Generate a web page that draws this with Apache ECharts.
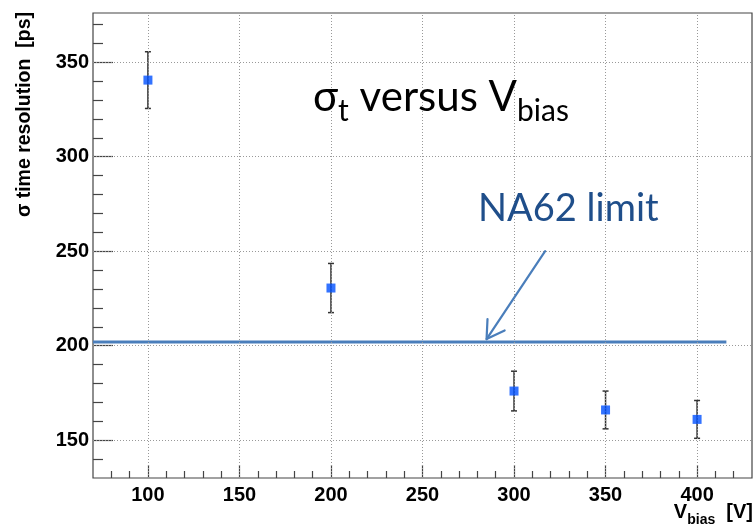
<!DOCTYPE html>
<html><head><meta charset="utf-8">
<script src="https://cdn.jsdelivr.net/npm/echarts@6/dist/echarts.min.js"></script>
<style>html,body{margin:0;padding:0;background:#fff}#c{width:755px;height:528px}</style>
</head><body><div id="c"></div>
<script>
// ---- data ----
const xMajorTicks = [100, 150, 200, 250, 300, 350, 400];
const xMinorTicks = [80, 90, 110, 120, 130, 140, 160, 170, 180, 190, 210, 220, 230, 240, 260, 270, 280, 290, 310, 320, 330, 340, 360, 370, 380, 390, 410, 420];
const yMajorTicks = [150, 200, 250, 300, 350];
const yMinorTicks = [140, 160, 170, 180, 190, 210, 220, 230, 240, 260, 270, 280, 290, 310, 320, 330, 340, 360, 370];
const vBias = [100, 200, 300, 350, 400];
const sigmaT = [340.5, 230.5, 176, 166, 161];
const sigmaErr = [15, 13, 10.5, 10, 10];
const na62Limit = 202;
const na62Extent = [70, 416];
const arrowFrom = [317, 250];
const arrowTo = [285, 203.5];
const xRange = [70, 430];
const yRange = [130, 376];

const chart = echarts.init(document.getElementById('c'), null, {renderer: 'canvas'});
const labelFont = {fontFamily: 'Liberation Sans', fontWeight: 'bold', fontSize: 20, color: '#000'};
const tickColor = '#444';

function xAx(ticks, len, labels) {
  return {
    type: 'value', position: 'bottom', min: xRange[0], max: xRange[1],
    axisLine: {show: false, onZero: false},
    axisTick: {show: true, inside: true, length: len, customValues: ticks, lineStyle: {color: tickColor, width: 1.2}},
    axisLabel: labels ? Object.assign({show: true, customValues: ticks, margin: 7}, labelFont) : {show: false},
    splitLine: {show: false}
  };
}
function yAx(ticks, len, labels) {
  return {
    type: 'value', position: 'left', min: yRange[0], max: yRange[1],
    axisLine: {show: false, onZero: false},
    axisTick: {show: true, inside: true, length: len, customValues: ticks, lineStyle: {color: tickColor, width: 1.2}},
    axisLabel: labels ? Object.assign({show: true, customValues: ticks, margin: 4}, labelFont) : {show: false},
    splitLine: {show: false}
  };
}

const titleBase = {fontFamily: 'Lato', fontSize: 42, lineHeight: 42, verticalAlign: 'top', fill: '#000'};
const titleSub = {fontFamily: 'Lato', fontSize: 30, lineHeight: 30, verticalAlign: 'top', padding: [20, 0, 0, 0], fill: '#000'};
const xtBase = {fontFamily: 'Liberation Sans', fontWeight: 'bold', fontSize: 20, lineHeight: 20, verticalAlign: 'top', fill: '#000'};
const xtSub = {fontFamily: 'Liberation Sans', fontWeight: 'bold', fontSize: 14, lineHeight: 14, verticalAlign: 'top', padding: [11, 0, 0, 0], fill: '#000'};

const option = {
  animation: false,
  backgroundColor: '#fff',
  grid: {left: 93, top: 13, right: 3, bottom: 50, show: true, borderColor: '#444', borderWidth: 1.2, backgroundColor: 'transparent'},
  xAxis: [xAx(xMinorTicks, 7, false), xAx(xMajorTicks, 13, true)],
  yAxis: [yAx(yMinorTicks, 10, false), yAx(yMajorTicks, 20, true)],
  series: [
    {
      type: 'line', data: [], xAxisIndex: 0, yAxisIndex: 0, z: 1, silent: true,
      markLine: {
        silent: true, symbol: ['none', 'none'], label: {show: false},
        lineStyle: {type: [1, 2], color: '#999', width: 1},
        emphasis: {disabled: true},
        data: xMajorTicks.map(v => ({xAxis: v})).concat(yMajorTicks.map(v => ({yAxis: v})))
      }
    },
    {
      type: 'line', xAxisIndex: 0, yAxisIndex: 0, z: 3, silent: true, symbol: 'none',
      lineStyle: {color: '#4A7EBB', width: 3},
      data: [[na62Extent[0], na62Limit], [na62Extent[1], na62Limit]]
    },
    {
      type: 'custom', xAxisIndex: 0, yAxisIndex: 0, z: 4, silent: true,
      encode: {x: 0, y: 1},
      data: vBias.map((v, i) => [v, sigmaT[i], sigmaErr[i]]),
      renderItem: function (params, api) {
        const x = api.value(0), y = api.value(1), e = api.value(2);
        const t = api.coord([x, y + e]), b = api.coord([x, y - e]);
        const cw = 3;
        const st = {stroke: '#333', lineWidth: 1.5};
        return {type: 'group', children: [
          {type: 'line', shape: {x1: t[0], y1: t[1], x2: b[0], y2: b[1]}, style: st},
          {type: 'line', shape: {x1: t[0] - cw, y1: t[1], x2: t[0] + cw, y2: t[1]}, style: st},
          {type: 'line', shape: {x1: b[0] - cw, y1: b[1], x2: b[0] + cw, y2: b[1]}, style: st}
        ]};
      }
    },
    {
      type: 'scatter', xAxisIndex: 0, yAxisIndex: 0, z: 5, silent: true,
      symbol: 'rect', symbolSize: 9,
      itemStyle: {color: '#0050FF'},
      data: vBias.map((v, i) => [v, sigmaT[i]])
    },
    {
      type: 'custom', xAxisIndex: 0, yAxisIndex: 0, z: 6, silent: true,
      encode: {x: [0, 2], y: [1, 3]},
      data: [[arrowFrom[0], arrowFrom[1], arrowTo[0], arrowTo[1]]],
      renderItem: function (params, api) {
        const p0 = api.coord([api.value(0), api.value(1)]);
        const p1 = api.coord([api.value(2), api.value(3)]);
        const ang = Math.atan2(p0[1] - p1[1], p0[0] - p1[0]);
        const L = 20, da = 31 * Math.PI / 180;
        const h1 = [p1[0] + L * Math.cos(ang - da), p1[1] + L * Math.sin(ang - da)];
        const h2 = [p1[0] + L * Math.cos(ang + da), p1[1] + L * Math.sin(ang + da)];
        const st = {stroke: '#4A7EBB', lineWidth: 2.2, fill: null, lineCap: 'round', lineJoin: 'round'};
        return {type: 'group', children: [
          {type: 'line', shape: {x1: p0[0], y1: p0[1], x2: p1[0], y2: p1[1]}, style: st},
          {type: 'polyline', shape: {points: [h1, p1, h2]}, style: st}
        ]};
      }
    }
  ],
  graphic: [
    {
      type: 'text', x: 313, y: 76, z: 10, silent: true,
      style: {
        text: '{b|σ}{sub|t}{b| versus V}{sub|bias}',
        fontFamily: 'Lato', fontSize: 42, fill: '#000',
        rich: {b: titleBase, sub: titleSub}
      }
    },
    {
      type: 'text', x: 478, y: 190, z: 10, silent: true,
      style: {text: 'NA62 limit', fontFamily: 'Lato', fontSize: 38, fill: '#1F4E8A'}
    },
    {
      type: 'text', x: 25, y: 12, rotation: Math.PI / 2, z: 10, silent: true,
      style: {text: 'σ time resolution  [ps]', fontFamily: 'Liberation Sans', fontWeight: 'bold', fontSize: 19.5, fill: '#000', align: 'right', verticalAlign: 'middle'}
    },
    {
      type: 'text', x: 753, y: 502, z: 10, silent: true,
      style: {
        text: '{b|V}{sub|bias}{b|  [V]}', align: 'right',
        fontFamily: 'Liberation Sans', fontWeight: 'bold', fontSize: 20, fill: '#000',
        rich: {b: xtBase, sub: xtSub}
      }
    }
  ]
};
chart.setOption(option);
</script>
</body></html>
